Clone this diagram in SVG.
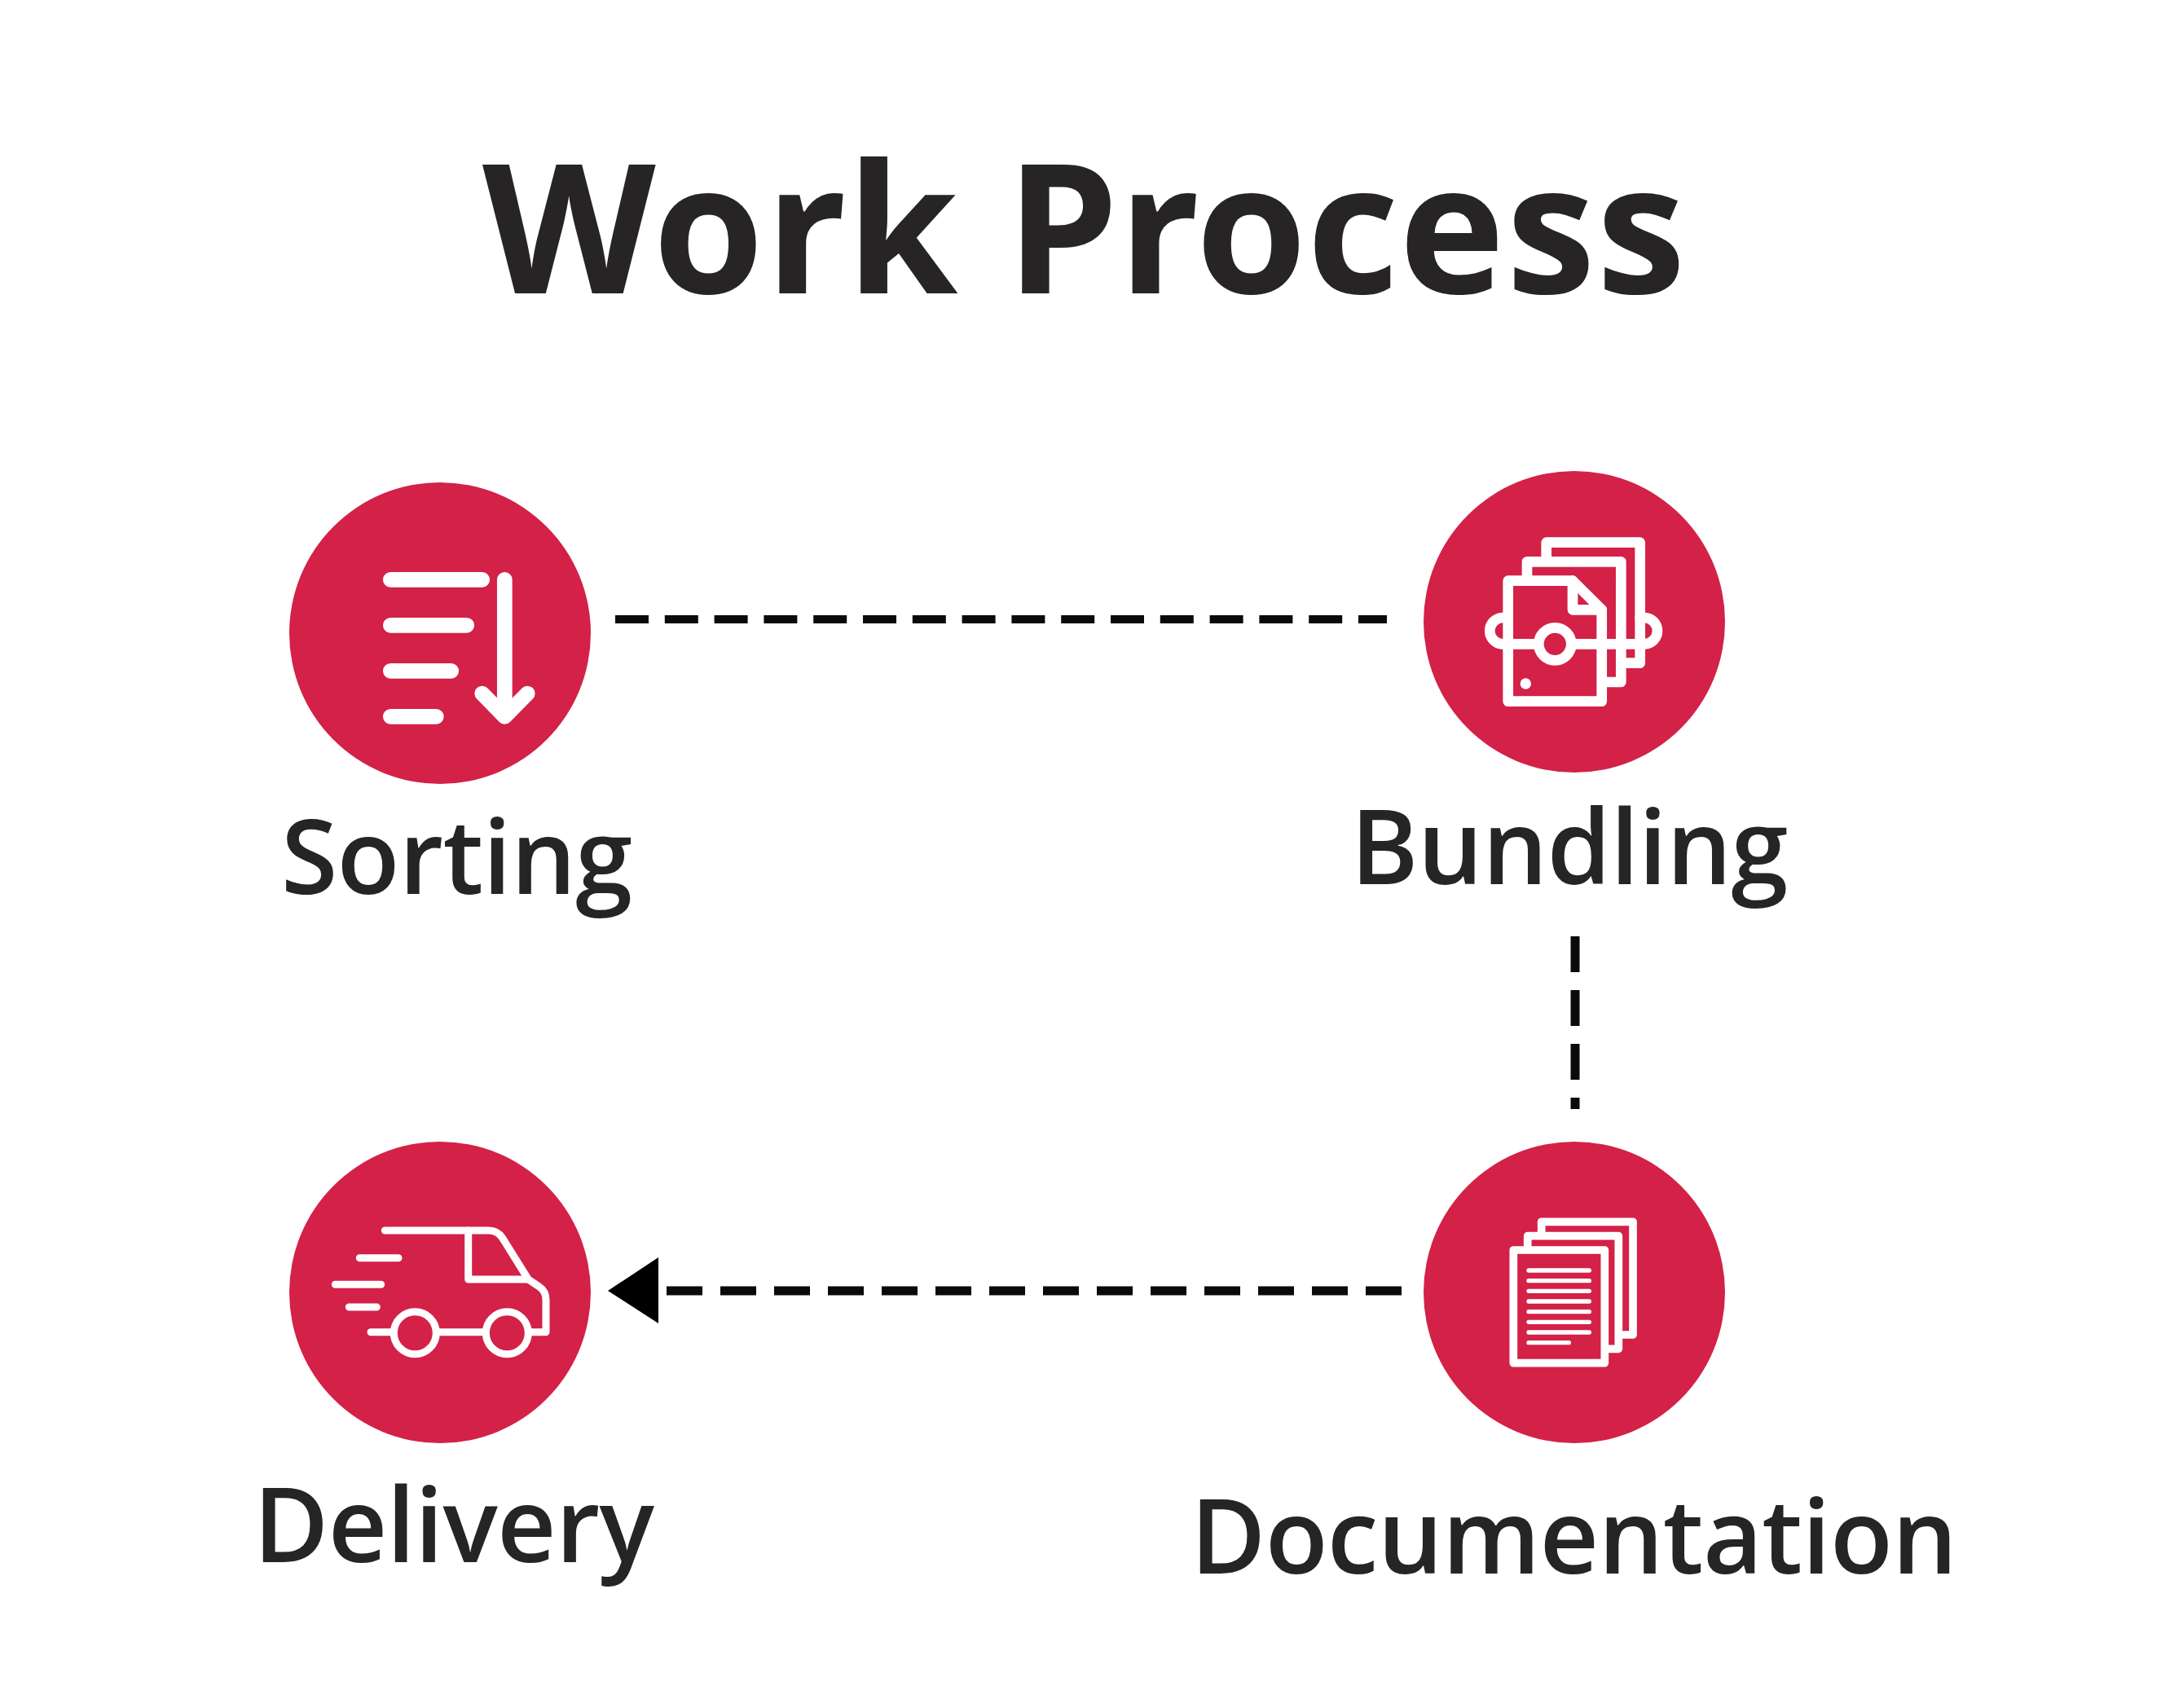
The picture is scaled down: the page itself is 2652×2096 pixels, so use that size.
<svg xmlns="http://www.w3.org/2000/svg" width="2652" height="2096" viewBox="0 0 2652 2096">
<style>
.disc{fill:#d32147}
.ic{fill:none;stroke:#fff;stroke-linecap:round;stroke-linejoin:round}
.dash{fill:none;stroke:#0a0a0a}
.t{font-family:"Open Sans","Noto Sans",sans-serif;fill:#262425}
.lab{font-size:126px;font-weight:600;letter-spacing:-0.7px}
</style>
<rect width="2652" height="2096" fill="#fff"/>
<text id="title" class="t" transform="translate(592 360) scale(1 1.005)" font-size="220" font-weight="700" dx="0 -3.4 1.7 0 0 1.7 0 -5 0 0 1.6 1.4">Work Process</text>
<g id="connectors">
<line class="dash" x1="755" y1="760" x2="1702" y2="760" stroke-width="10" stroke-dasharray="41 19.8"/>
<line class="dash" x1="1933" y1="1149" x2="1933" y2="1361" stroke-width="11" stroke-dasharray="44 22"/>
<line class="dash" x1="1720" y1="1584" x2="818" y2="1584" stroke-width="11" stroke-dasharray="44 22"/>
<polygon points="746,1584 808,1543 808,1624" fill="#000"/>
</g>
<g id="sorting">
<circle class="disc" cx="540" cy="777" r="185"/>
<g class="ic" stroke-width="18.7">
<path d="M479.3 711.3H591.7M479.3 767.3H572.7M479.3 823.3H553.7M479.3 879.3H535.3M619.3 711.3V879.3M591.7 851L619.3 879.3L647.3 851"/>
</g>
<text class="t lab" x="345" y="1097">Sorting</text>
</g>
<g id="bundling">
<circle class="disc" cx="1932" cy="763" r="185"/>
<g class="ic" stroke-width="12.7">
<path d="M1897.7 683V665.7H2012.7V813.7H1995"/>
<path d="M1874 706V689.3H1989.3V837H1972"/>
<path d="M1850.7 712.7H1930L1965.7 748.3V860.7H1850.7Z"/>
<path d="M1930 712.7V748.3H1965.7"/>
<path d="M1850.7 758H1843.2A16.2 16.2 0 0 0 1843.2 790.3H2019A16.2 16.2 0 0 0 2019 758H2012.7"/>
<circle cx="1908.3" cy="790.3" r="20" fill="#d32147"/>
</g>
<circle cx="1872.3" cy="839" r="6.7" fill="#fff"/>
<text class="t lab" x="1657.5" y="1085">Bundling</text>
</g>
<g id="documentation">
<circle class="disc" cx="1932" cy="1586" r="185"/>
<g class="ic" stroke-width="9.7">
<path d="M1891.7 1512V1499.3H2004V1638H1990"/>
<path d="M1874.7 1529V1516.7H1986.3V1655.3H1972"/>
<rect x="1857.3" y="1534" width="112" height="138.7"/>
</g>
<g class="ic" stroke-width="5.3">
<path d="M1876 1559H1950.3M1876 1571.7H1950.3M1876 1584.3H1950.3M1876 1597H1950.3M1876 1609.7H1950.3M1876 1622.3H1950.3M1876 1635H1950.3M1876 1647.7H1925.3"/>
</g>
<text class="t lab" x="1461" y="1931">Documentation</text>
</g>
<g id="delivery">
<circle class="disc" cx="540" cy="1586" r="185"/>
<g class="ic" stroke-width="9">
<path d="M472.3 1510H600C607 1510 612.5 1513 616.5 1519L648.3 1570L661.7 1579C667 1582.5 670 1588 670 1595V1634.7H652"/>
<path d="M574.7 1510V1570H648.3"/>
<circle cx="509.3" cy="1635.7" r="26"/>
<circle cx="622.3" cy="1635.7" r="26"/>
<path d="M455 1634.7H479.3M539.3 1634.7H592M441.3 1543.7H489M411.3 1576.3H467.7M428.3 1604H462.3"/>
</g>
<text class="t lab" x="311" y="1917">Delivery</text>
</g>
</svg>
